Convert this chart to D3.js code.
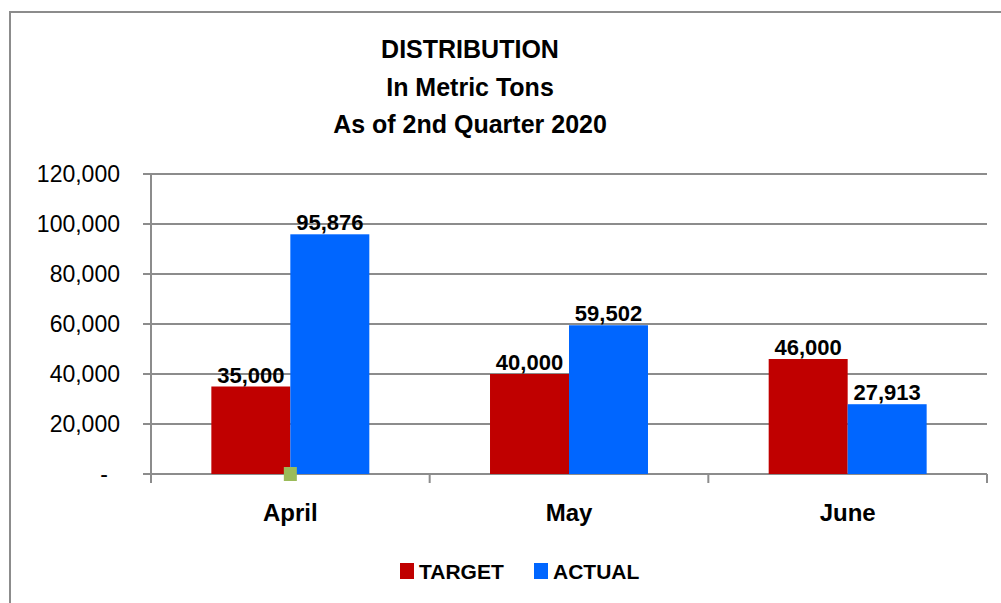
<!DOCTYPE html>
<html><head><meta charset="utf-8">
<script src="https://cdn.jsdelivr.net/npm/d3@7"></script>
<style>body{margin:0;background:#fff}svg{display:block}</style>
</head><body>
<svg id="c" width="1001" height="603"></svg>
<script>
const titleLines = ["DISTRIBUTION", "In Metric Tons", "As of 2nd Quarter 2020"];
const categories = ["April", "May", "June"];
const seriesNames = ["TARGET", "ACTUAL"];
const targetValues = [35000, 40000, 46000];
const actualValues = [95876, 59502, 27913];
const yTicks = [0, 20000, 40000, 60000, 80000, 100000, 120000];
const colors = {TARGET: "#C00000", ACTUAL: "#0066FF"};

(function () {
const svg = d3.select("#c");
const font = "'Liberation Sans', Arial, sans-serif";
const grid = "#8c8c8c";

// outer border
svg.append("path").attr("d", "M10,603 V12 H1001").attr("fill", "none").attr("stroke", "#8c8c8c").attr("stroke-width", 2);

const pLeft = 151, pRight = 987, pTop = 174, pBottom = 474;
const y = d3.scaleLinear().domain([0, 120000]).range([pBottom, pTop]);
const x0 = d3.scaleBand().domain(categories).range([pLeft, pRight]).padding(0);
const x1 = d3.scaleBand().domain(seriesNames).range([0, x0.bandwidth()]).paddingInner(0).paddingOuter(0.764);

// gridlines
svg.append("g").selectAll("line").data(yTicks).join("line")
  .attr("x1", pLeft - 8).attr("x2", pRight).attr("y1", d => y(d)).attr("y2", d => y(d))
  .attr("stroke", grid).attr("stroke-width", 2);
// y axis line
svg.append("line").attr("x1", pLeft).attr("x2", pLeft).attr("y1", pTop).attr("y2", pBottom + 9)
  .attr("stroke", grid).attr("stroke-width", 2);
// category ticks
const catEdges = categories.map(c => x0(c)).concat([x0(categories[categories.length - 1]) + x0.bandwidth()]);
svg.append("g").selectAll("line").data(catEdges).join("line")
  .attr("x1", d => d).attr("x2", d => d).attr("y1", pBottom).attr("y2", pBottom + 9)
  .attr("stroke", grid).attr("stroke-width", 2);

// y labels (accounting style: zero shown as a dash)
const fmt = d3.format(",");
svg.append("g").selectAll("text").data(yTicks).join("text")
  .attr("x", 120).attr("y", d => y(d) + 8).attr("text-anchor", "end")
  .attr("dx", d => d === 0 ? -12 : 0)
  .attr("font-family", font).attr("font-size", 23).attr("fill", "#000")
  .text(d => d === 0 ? "-" : fmt(d));

// bars
const rows = categories.map((c, i) => ({cat: c, vals: [{s: "TARGET", v: targetValues[i]}, {s: "ACTUAL", v: actualValues[i]}]}));
const g = svg.append("g").selectAll("g").data(rows).join("g").attr("transform", d => `translate(${x0(d.cat)},0)`);
g.selectAll("rect").data(d => d.vals).join("rect")
  .attr("x", d => x1(d.s)).attr("width", x1.bandwidth())
  .attr("y", d => y(d.v)).attr("height", d => pBottom - y(d.v))
  .attr("fill", d => colors[d.s]);
g.selectAll("text").data(d => d.vals).join("text")
  .attr("x", d => x1(d.s) + x1.bandwidth() / 2).attr("y", d => y(d.v) - 4)
  .attr("text-anchor", "middle").attr("font-family", font).attr("font-weight", "bold")
  .attr("font-size", 22).attr("fill", "#000").text(d => fmt(d.v));

// small green marker at baseline (present in the reference)
svg.append("rect").attr("x", x0(categories[0]) + x0.bandwidth() / 2 - 6.5).attr("y", pBottom - 7)
  .attr("width", 13).attr("height", 14).attr("fill", "#9BBB59");

// category labels
svg.append("g").selectAll("text").data(categories).join("text")
  .attr("x", d => x0(d) + x0.bandwidth() / 2).attr("y", 521).attr("text-anchor", "middle")
  .attr("font-family", font).attr("font-weight", "bold").attr("font-size", 24).attr("fill", "#000")
  .text(d => d);

// title
svg.append("g").selectAll("text").data(titleLines).join("text")
  .attr("x", 470).attr("y", (d, i) => 58 + i * 37.5).attr("text-anchor", "middle")
  .attr("font-family", font).attr("font-weight", "bold").attr("font-size", 25).attr("fill", "#000")
  .text(d => d);

// legend
const legendX = [400, 534];
const lg = svg.append("g").selectAll("g").data(seriesNames).join("g")
  .attr("transform", (d, i) => `translate(${legendX[i]},563)`);
lg.append("rect").attr("width", 14).attr("height", 16).attr("fill", d => colors[d]);
lg.append("text").attr("x", 19).attr("y", 16).attr("font-family", font).attr("font-weight", "bold")
  .attr("font-size", 21).attr("fill", "#000").text(d => d);
})();
</script>
</body></html>
